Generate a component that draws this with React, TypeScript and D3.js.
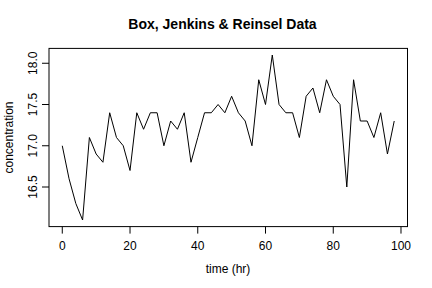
import React from "react";
import * as d3 from "d3";

const concentration = [
  17.0, 16.6, 16.3, 16.1, 17.1, 16.9, 16.8, 17.4, 17.1, 17.0,
  16.7, 17.4, 17.2, 17.4, 17.4, 17.0, 17.3, 17.2, 17.4, 16.8,
  17.1, 17.4, 17.4, 17.5, 17.4, 17.6, 17.4, 17.3, 17.0, 17.8,
  17.5, 18.1, 17.5, 17.4, 17.4, 17.1, 17.6, 17.7, 17.4, 17.8,
  17.6, 17.5, 16.5, 17.8, 17.3, 17.3, 17.1, 17.4, 16.9, 17.3,
];
const timeHr = concentration.map((_, i) => i * 2);
const xTicks = [0, 20, 40, 60, 80, 100];
const yTicks = [16.5, 17.0, 17.5, 18.0];

const W = 432, H = 288;
const left = 49, right = 407.5, top = 48.4, bottom = 226.6;

export default function App() {
  const x = d3.scaleLinear().domain([-3.92, 101.92]).range([left, right]);
  const y = d3.scaleLinear().domain([16.02, 18.18]).range([bottom, top]);
  const line = d3
    .line<number>()
    .x((_, i) => x(timeHr[i]))
    .y((d) => y(d));
  const font = "Liberation Sans, Arial, Helvetica, sans-serif";
  return (
    <svg
      width={W}
      height={H}
      style={{ position: "absolute", left: 0, top: 0, background: "#fff" }}
      fontFamily={font}
    >
      <rect x={0} y={0} width={W} height={H} fill="#fff" />
      <text x={222.5} y={29} textAnchor="middle" fontSize={14} fontWeight="bold">
        Box, Jenkins &amp; Reinsel Data
      </text>
      <rect x={left} y={top} width={right - left} height={bottom - top} fill="none" stroke="#000" strokeWidth={1} />
      <path d={line(concentration) || ""} fill="none" stroke="#000" strokeWidth={1} />
      {xTicks.map((t) => (
        <g key={t}>
          <line x1={x(t)} x2={x(t)} y1={bottom} y2={bottom + 7} stroke="#000" />
          <text x={x(t)} y={249.5} textAnchor="middle" fontSize={12}>
            {t}
          </text>
        </g>
      ))}
      {yTicks.map((t) => (
        <g key={t}>
          <line x1={left} x2={left - 7} y1={y(t)} y2={y(t)} stroke="#000" />
          <text
            transform={`translate(36.5,${y(t)}) rotate(-90)`}
            textAnchor="middle"
            fontSize={12}
          >
            {t.toFixed(1)}
          </text>
        </g>
      ))}
      <text x={228} y={273} textAnchor="middle" fontSize={12}>
        time (hr)
      </text>
      <text transform={`translate(13,${(top + bottom) / 2}) rotate(-90)`} textAnchor="middle" fontSize={12}>
        concentration
      </text>
    </svg>
  );
}
